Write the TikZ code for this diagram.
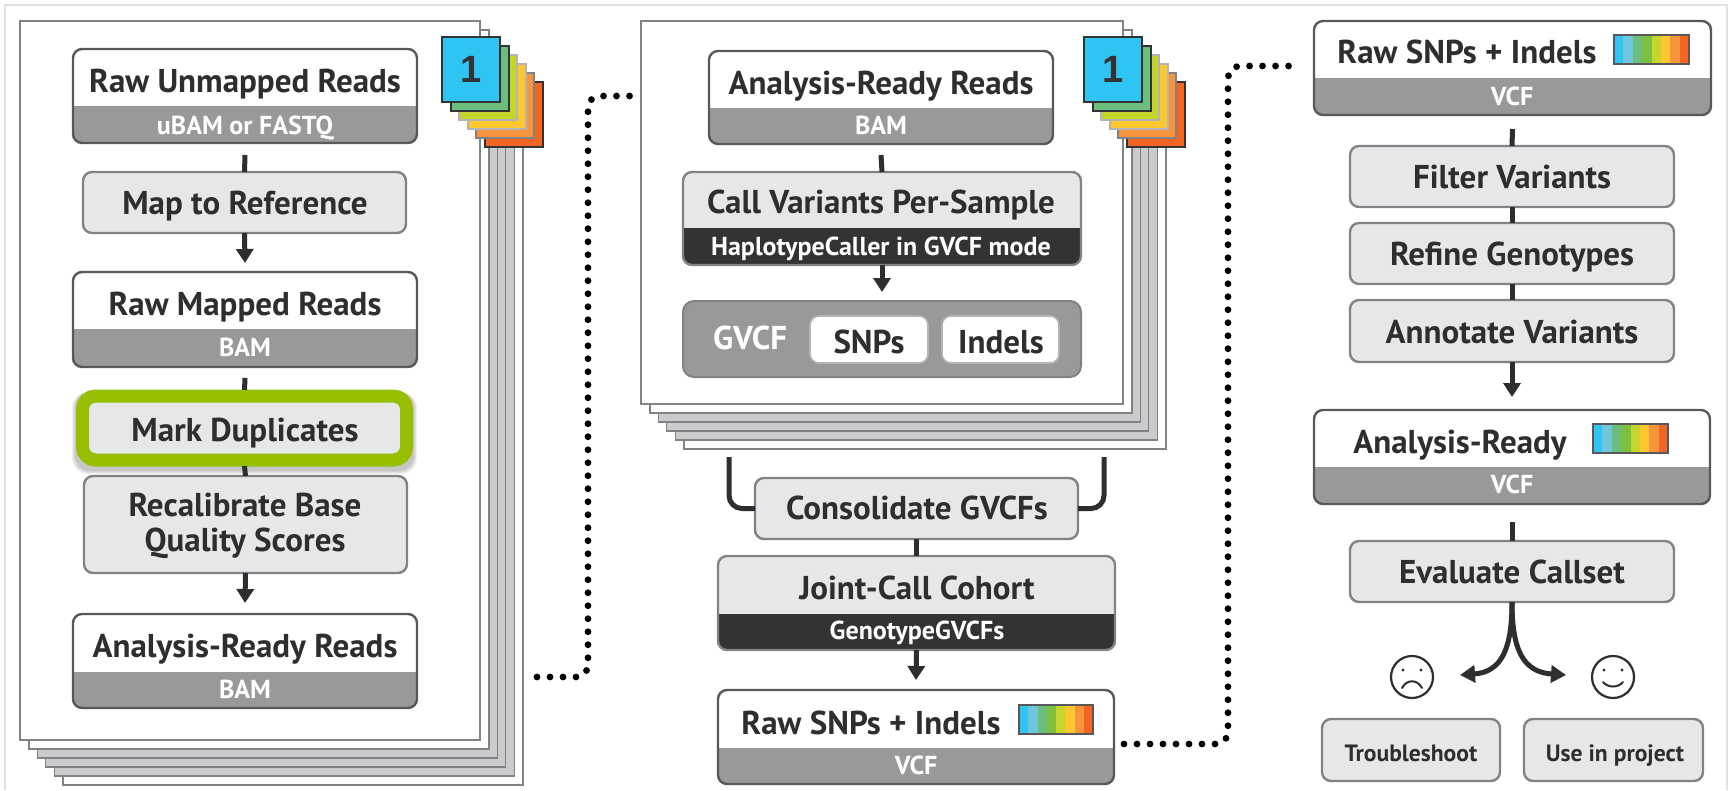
\documentclass[tikz,border=0pt]{standalone}
\usepackage{fontspec}
\setmainfont{PT Sans}
\newfontfamily\onefont{Liberation Sans}
\usetikzlibrary{arrows.meta}
\definecolor{ink}{HTML}{2E2E30}
\definecolor{barg}{HTML}{999999}
\definecolor{edgeg}{HTML}{58585A}
\definecolor{procf}{HTML}{E6E7E8}
\definecolor{proce}{HTML}{808285}
\definecolor{darkb}{HTML}{333333}
\definecolor{pageg}{HTML}{C9CBCD}
\definecolor{pagee}{HTML}{808285}
\definecolor{sa}{HTML}{2FC4F2}
\definecolor{sb}{HTML}{70C6DC}
\definecolor{sc}{HTML}{6CBE7F}
\definecolor{sd}{HTML}{7DBF3F}
\definecolor{se}{HTML}{C5D52B}
\definecolor{sf}{HTML}{FDC82F}
\definecolor{sg}{HTML}{F7943C}
\definecolor{sh}{HTML}{F26522}
\definecolor{limeg}{HTML}{97BF00}
\tikzset{
  dataframe/.style={draw=edgeg,line width=2.4pt,fill=white,rounded corners=9pt,inner sep=0pt,outer sep=0pt},
  procbox/.style={draw=proce,line width=2.4pt,fill=procf,rounded corners=9pt,inner sep=0pt,outer sep=0pt},
  whitepill/.style={draw=proce!60,line width=1.6pt,fill=white,rounded corners=9pt,inner sep=0pt,outer sep=0pt},
  gvcfbox/.style={draw=proce,line width=2pt,fill=barg,rounded corners=11pt,inner sep=0pt,outer sep=0pt},
  flat/.style={inner sep=0pt,outer sep=0pt},
  title/.style={text=ink,inner sep=0pt,anchor=base,yshift=-2pt},
  subtitle/.style={text=white,inner sep=0pt,anchor=base,yshift=-1.5pt},
  stem/.style={draw=ink,line width=5pt},
  arrowstem/.style={draw=ink,line width=5pt,-{Triangle[width=17pt,length=14pt]}},
  bracket/.style={draw=ink,line width=5pt,rounded corners=13pt},
  dots/.style={draw=black,line width=6.8pt,line cap=round,dash pattern=on 0pt off 13pt,rounded corners=12pt},
  face/.style={circle,draw=ink,line width=2.2pt,minimum size=42pt,inner sep=0pt,outer sep=0pt},
}
\newcommand{\fs}[1]{\fontsize{#1}{#1}\selectfont}
% style, name, x1,y1,x2,y2
\newcommand{\bx}[6]{%
  \pgfmathsetmacro\bxw{#5-#3}\pgfmathsetmacro\bxh{#6-#4}%
  \pgfmathsetmacro\bxx{(#3+#5)/2}\pgfmathsetmacro\bxy{(#4+#6)/2}%
  \node[#1,name=#2,minimum width=\bxw pt,minimum height=\bxh pt] at (\bxx,\bxy) {};}
% top box with coloured lower band: style,name,x1,y1,x2,y2,ysplit,colour
\newcommand{\sbx}[8]{%
  \pgfmathsetmacro\bxs{#6-#7}%
  \bx{#1,path picture={\fill[#8,sharp corners] (path picture bounding box.south west) rectangle ([yshift=\bxs pt]path picture bounding box.south east);}}{#2}{#3}{#4}{#5}{#6}}
% page stack: name,x1,y1,x2,y2
\newcommand{\pagestack}[5]{%
  \foreach \i/\f/\lw in {5/white/2,4/pageg/1.2,3/pageg/1.2,2/pageg/1.2,1/white/2.2,0/white/2.6}{%
    \pgfmathsetmacro\pxa{#2+\i*8.6}\pgfmathsetmacro\pya{#3+\i*8.6}%
    \pgfmathsetmacro\pxb{#4+\i*8.6}\pgfmathsetmacro\pyb{#5+\i*9}%
    \bx{draw=pagee,fill=\f,flat,line width=\lw pt}{#1\i}{\pxa}{\pya}{\pxb}{\pyb}}}
% tabs: name,x,y (top left)
\newcommand{\tabstack}[3]{%
  \foreach \i/\f/\e in {5/sh/darkb,4/sg/proce,3/sf/proce!60,2/se/proce!60,1/sc/darkb}{%
    \pgfmathsetmacro\pxa{#2+\i*8.6}\pgfmathsetmacro\pya{#3+\i*9}%
    \pgfmathsetmacro\pxb{\pxa+58}\pgfmathsetmacro\pyb{\pya+65}%
    \bx{draw=\e,fill=\f,flat,line width=2pt}{#1\i}{\pxa}{\pya}{\pxb}{\pyb}}%
  \pgfmathsetmacro\pxb{#2+58}\pgfmathsetmacro\pyb{#3+65}%
  \bx{draw=darkb,fill=sa,flat,line width=2pt}{#10}{#2}{#3}{\pxb}{\pyb}%
  \node[inner sep=0pt,text=darkb,font=\onefont\bfseries\fs{38}] (#1num) at (#10.center) {1};}
% spectrum: name,x1,y1,x2,y2
\newcommand{\spectrum}[5]{%
  \pgfmathsetmacro\spw{(#4-#2)/8}%
  \foreach \i/\f in {0/sa,1/sb,2/sc,3/sd,4/se,5/sf,6/sg,7/sh}{%
    \fill[\f] ({#2+\i*\spw},#3) rectangle ({#2+(\i+1)*\spw},#5);}%
  \node[draw=edgeg,line width=1.6pt,inner sep=0pt,outer sep=0pt,name=#1,minimum width={(#4-#2)*1pt},minimum height={(#5-#3)*1pt}] at ({(#2+#4)/2},{(#3+#5)/2}) {};}
\tikzset{big/.style={font=\bfseries\fs{33}},small/.style={font=\bfseries\fs{26}},tiny/.style={font=\bfseries\fs{23.6}}}
\begin{document}
\begin{tikzpicture}[x=1pt,y=-1pt]
\useasboundingbox (0,0) rectangle (1729,790);
\fill[white] (0,0) rectangle (1729,790);
% outer frame
\draw[draw=black!12,line width=1.2pt] (5,790) -- (5,5) -- (1727,5) -- (1727,790);

% ---------- left column ----------
\pagestack{lp}{20}{21}{480}{740}
\tabstack{lt}{442}{37}
\sbx{dataframe}{a1}{73}{49}{417}{143}{106}{barg}
\node[title,big] (a1t) at (245,90) {Raw Unmapped Reads};
\node[subtitle,small] (a1s) at (245,133) {uBAM or FASTQ};
\bx{procbox}{a2}{83}{172}{406}{233}
\node[title,big] (a2t) at (245,212) {Map to Reference};
\sbx{dataframe}{a3}{73}{272}{417}{367}{329}{barg}
\node[title,big] (a3t) at (245,313) {Raw Mapped Reads};
\node[subtitle,small] (a3s) at (245,355) {BAM};
\bx{procbox}{a5}{84}{476}{407}{573}
\node[text=ink,inner sep=0pt,align=center,font=\bfseries\fontsize{33}{35}\selectfont] (a5t) at (245,526) {Recalibrate Base\\Quality Scores};
\sbx{dataframe}{a6}{73}{614}{417}{708}{672}{barg}
\node[title,big] (a6t) at (245,655) {Analysis-Ready Reads};
\node[subtitle,small] (a6s) at (245,697) {BAM};
% green highlight with a soft shadow
\foreach \g in {0,1,2,3}{\fill[black,opacity=.06,rounded corners=16pt] ({75-\g},{392}) rectangle ({414+\g},{471+\g});}
\bx{draw=limeg,fill=procf,line width=13pt,rounded corners=13pt,inner sep=0pt,outer sep=0pt}{a4}{82.5}{396}{406.5}{460}
\node[title,big] (a4t) at (245,439) {Mark Duplicates};

\draw[stem] ([yshift=-12pt]a1.south) -- (a2.north);
\draw[arrowstem] (a2.south) -- ([yshift=9pt]a3.north);
\draw[stem] ([yshift=-11pt]a3.south) -- ([yshift=6pt]a4.north);
\draw[stem] ([yshift=-6pt]a4.south) -- (a5.north);
\draw[arrowstem] (a5.south) -- ([yshift=11pt]a6.north);

% ---------- middle column ----------
\pagestack{mp}{641}{21}{1123}{404}
\tabstack{mt}{1084}{37}
\sbx{dataframe}{b1}{709}{51}{1053}{144}{108}{barg}
\node[title,big] (b1t) at (881,92) {Analysis-Ready Reads};
\node[subtitle,small] (b1s) at (881,133) {BAM};
\sbx{procbox}{b2}{683}{172}{1081}{265}{228}{darkb}
\node[title,big] (b2t) at (881,211) {Call Variants Per-Sample};
\node[subtitle,small] (b2s) at (881,254) {HaplotypeCaller in GVCF mode};
\bx{gvcfbox}{b3}{683}{301}{1081}{377}
\node[subtitle,big] (b3t) at (750,348) {GVCF};
\bx{whitepill}{b4}{810}{316}{928}{363}
\node[title,big] (b4t) at (869,351) {SNPs};
\bx{whitepill}{b5}{942}{316}{1059}{363}
\node[title,big] (b5t) at (1001,351) {Indels};
\draw[stem] ([yshift=-11pt]b1.south) -- (b2.north);
\draw[arrowstem] (b2.south) -- ([yshift=9pt]b3.north);

\bx{procbox}{c1}{755}{478}{1078}{539}
\node[title,big] (c1t) at (917,517) {Consolidate GVCFs};
\coordinate (brl) at (729,457);
\coordinate (brr) at (1104,457);
\draw[bracket] (brl) |- (c1.west);
\draw[bracket] (brr) |- (c1.east);
\sbx{procbox}{c2}{718}{556}{1115}{650}{614}{darkb}
\node[title,big] (c2t) at (917,597) {Joint-Call Cohort};
\node[subtitle,small] (c2s) at (917,638) {GenotypeGVCFs};
\sbx{dataframe}{c3}{718}{690}{1114}{784}{748}{barg}
\node[title,big] (c3t) at (871,732) {Raw SNPs + Indels};
\node[subtitle,small] (c3s) at (916,773) {VCF};
\spectrum{c3c}{1019}{705}{1093}{734}
\draw[stem] (c1.south) -- (c2.north);
\draw[arrowstem] (c2.south) -- ([yshift=10pt]c3.north);

% ---------- right column ----------
\sbx{dataframe}{d1}{1314}{21}{1711}{115}{78}{barg}
\node[title,big] (d1t) at (1467,61) {Raw SNPs + Indels};
\node[subtitle,small] (d1s) at (1512,104) {VCF};
\spectrum{d1c}{1614}{35}{1689}{64}
\bx{procbox}{d2}{1350}{146}{1674}{207}
\node[title,big] (d2t) at (1512,186) {Filter Variants};
\bx{procbox}{d3}{1350}{223}{1674}{284}
\node[title,big] (d3t) at (1512,263) {Refine Genotypes};
\bx{procbox}{d4}{1350}{300}{1674}{362}
\node[title,big] (d4t) at (1512,341) {Annotate Variants};
\sbx{dataframe}{d5}{1314}{410}{1710}{504}{467}{barg}
\node[title,big] (d5t) at (1460,451) {Analysis-Ready};
\node[subtitle,small] (d5s) at (1512,492) {VCF};
\spectrum{d5c}{1593}{424}{1668}{453}
\bx{procbox}{d6}{1350}{541}{1674}{602}
\node[title,big] (d6t) at (1512,581) {Evaluate Callset};
\bx{procbox}{d7}{1322}{719}{1500}{781}
\node[title,tiny] (d7t) at (1411,759) {Troubleshoot};
\bx{procbox}{d8}{1524}{719}{1703}{781}
\node[title,tiny] (d8t) at (1615,759) {Use in project};
\draw[stem] ([yshift=-14pt]d1.south) -- (d2.north);
\draw[stem] (d2.south) -- (d3.north);
\draw[stem] (d3.south) -- (d4.north);
\draw[arrowstem] (d4.south) -- ([yshift=13pt]d5.north);
\draw[stem] ([yshift=-18pt]d5.south) -- (d6.north);
% branch arrows
\coordinate (tipl) at (1460,675);
\coordinate (tipr) at (1566,675);
\draw[draw=ink,line width=5pt,-{Triangle[width=17pt,length=15pt]}] (d6.south) .. controls (1512,648) and (1502,672) .. (tipl);
\draw[draw=ink,line width=5pt,-{Triangle[width=17pt,length=15pt]}] (d6.south) .. controls (1512,648) and (1522,672) .. (tipr);
% faces
\node[face] (sad) at (1412,677) {};
\fill[ink] (1403,670) circle (1.7) (1421,670) circle (1.7);
\draw[ink,line width=2pt,line cap=round] (1402,688) .. controls (1407,679) and (1417,679) .. (1422,688);
\node[face] (happy) at (1613,677) {};
\fill[ink] (1604,670) circle (1.7) (1622,670) circle (1.7);
\draw[ink,line width=2pt,line cap=round] (1603,682) .. controls (1608,688) and (1618,688) .. (1623,682);

% ---------- dotted links ----------
\coordinate (dl1) at (634,96);
\coordinate (dl2) at (1300,66);
\draw[dots] (537,677) -- (588,677) -- (588,96) -- (dl1);
\draw[dots] (1124,744) -- (1228,744) -- (1228,66) -- (dl2);
\end{tikzpicture}
\end{document}
